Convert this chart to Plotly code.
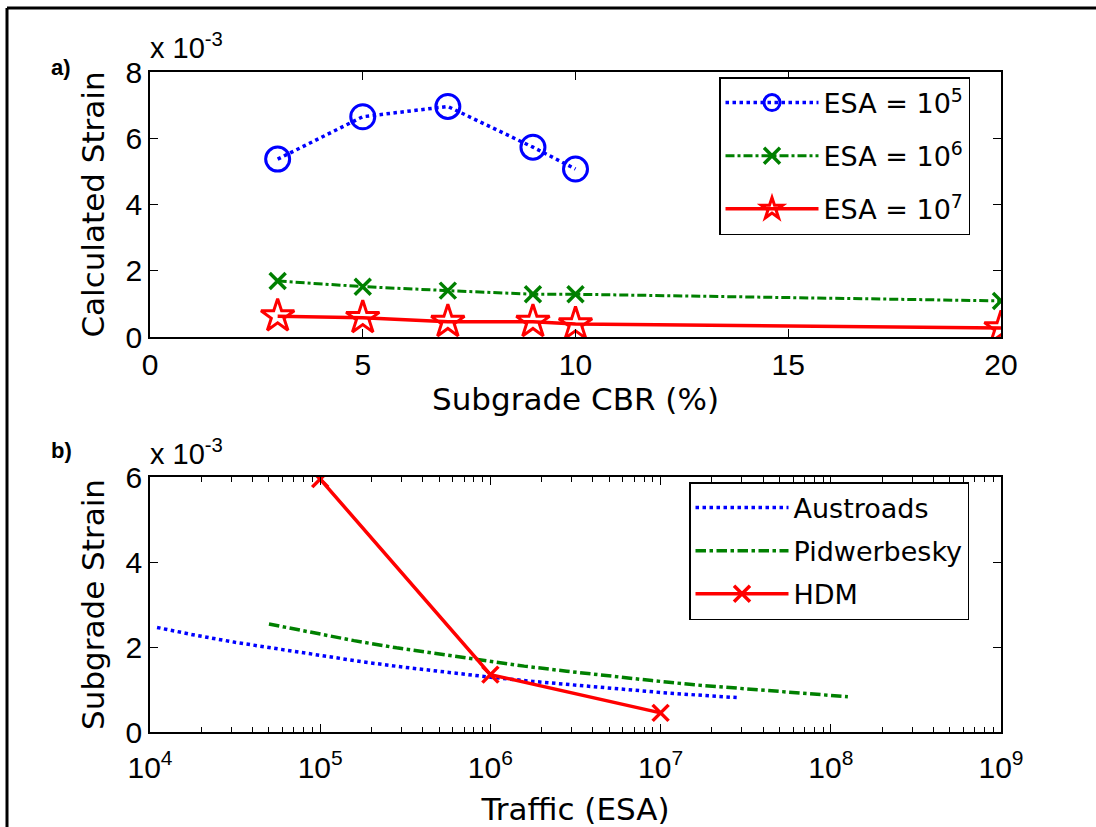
import plotly.graph_objects as go

# ---- Panel a) data (strain x 1e-3) ----
cbr = [3, 5, 7, 9, 10]
cbr_ext = [3, 5, 7, 9, 10, 20]
esa5 = [5.37, 6.65, 6.96, 5.73, 5.07]
esa6 = [1.69, 1.52, 1.40, 1.29, 1.29, 1.09]
esa7 = [0.63, 0.58, 0.46, 0.46, 0.39, 0.27]

# ---- Panel b) data ----
aus_n = [1.1e4, 1.78e4, 3.16e4, 5.62e4, 1e5, 1.78e5, 3.16e5, 5.62e5, 1e6,
         1.78e6, 3.16e6, 5.62e6, 1e7, 1.78e7, 2.8e7]
aus_s = [2.46, 2.29, 2.11, 1.95, 1.79, 1.65, 1.52, 1.40, 1.29,
         1.19, 1.10, 1.01, 0.93, 0.86, 0.81]
pid_n = [5e4, 8.9e4, 1.58e5, 2.81e5, 5e5, 8.9e5, 1.58e6, 2.81e6, 5e6,
         8.9e6, 1.58e7, 2.81e7, 5e7, 8.9e7, 1.26e8]
pid_s = [2.54, 2.34, 2.15, 1.98, 1.83, 1.68, 1.55, 1.43, 1.31,
         1.21, 1.11, 1.03, 0.94, 0.87, 0.83]
hdm_n = [1e5, 1e6, 1e7]
hdm_s = [5.95, 1.35, 0.45]

W, H = 1096, 827
def px(x): return x / W
def py(y): return 1 - y / H

LBL = "DejaVu Sans"
TCK = "Liberation Sans"

fig = go.Figure()

fig.add_trace(go.Scatter(x=cbr, y=esa5, name="ESA = 10<sup>5</sup>", mode="lines+markers",
    line=dict(color="#0000ff", width=3.5, dash="dot"),
    marker=dict(symbol="circle-open", size=24, color="#0000ff", line=dict(width=3)),
    xaxis="x", yaxis="y", legend="legend", legendgroup="a1"))
fig.add_trace(go.Scatter(x=cbr_ext, y=esa6, name="ESA = 10<sup>6</sup>", mode="lines+markers",
    line=dict(color="#008000", width=3, dash="dashdot"),
    marker=dict(symbol="x-thin-open", size=16, color="#008000", line=dict(width=3.5, color="#008000")),
    xaxis="x", yaxis="y", legend="legend", legendgroup="a2"))
fig.add_trace(go.Scatter(x=cbr_ext, y=esa7, name="ESA = 10<sup>7</sup>", mode="lines+markers",
    line=dict(color="#ff0000", width=3.5),
    marker=dict(symbol="star-open", size=25, color="#ff0000", line=dict(width=3, color="#ff0000")),
    xaxis="x", yaxis="y", legend="legend", legendgroup="a3"))

fig.add_trace(go.Scatter(x=aus_n, y=aus_s, name="Austroads", mode="lines",
    line=dict(color="#0000ff", width=3.5, dash="dot"),
    xaxis="x2", yaxis="y2", legend="legend2", legendgroup="b1"))
fig.add_trace(go.Scatter(x=pid_n, y=pid_s, name="Pidwerbesky", mode="lines",
    line=dict(color="#008000", width=3.5, dash="dashdot"),
    xaxis="x2", yaxis="y2", legend="legend2", legendgroup="b2"))
fig.add_trace(go.Scatter(x=hdm_n, y=hdm_s, name="HDM", mode="lines+markers",
    line=dict(color="#ff0000", width=3.5),
    marker=dict(symbol="x-thin-open", size=16, color="#ff0000", line=dict(width=3.5, color="#ff0000")),
    xaxis="x2", yaxis="y2", legend="legend2", legendgroup="b3"))

axcommon = dict(showline=True, linecolor="black", linewidth=1.5, mirror="ticks",
                ticks="inside", ticklen=8, tickwidth=1, tickcolor="black",
                showgrid=False, zeroline=False, automargin=False,
                tickfont=dict(family=TCK, size=30, color="black"))
titlefont = dict(family=LBL, size=31, color="black")

fig.update_layout(
    width=W, height=H, margin=dict(l=0, r=0, t=0, b=0, autoexpand=False),
    paper_bgcolor="white", plot_bgcolor="white",
    xaxis=dict(domain=[px(150), px(1001)], anchor="y", range=[0, 20],
               tickvals=[0, 5, 10, 15, 20],
               title=dict(text="Subgrade CBR (%)", font=titlefont, standoff=8),
               **axcommon),
    yaxis=dict(domain=[py(337), py(72)], anchor="x", range=[0, 8],
               tickvals=[0, 2, 4, 6, 8],
               title=dict(text="Calculated Strain", font=titlefont, standoff=12),
               **axcommon),
    xaxis2=dict(domain=[px(150), px(1001)], anchor="y2", type="log", range=[4, 9],
                tickvals=[1e4, 1e5, 1e6, 1e7, 1e8, 1e9],
                ticktext=["10<sup>%d</sup>" % k for k in range(4, 10)],
                ticklabelstandoff=8,
                minor=dict(ticks="inside", ticklen=5, tickcolor="black", dtick="D1", showgrid=False),
                title=dict(text="Traffic (ESA)", font=titlefont, standoff=18),
                **axcommon),
    yaxis2=dict(domain=[py(732), py(477)], anchor="x2", range=[0, 6],
                tickvals=[0, 2, 4, 6],
                title=dict(text="Subgrade Strain", font=titlefont, standoff=12),
                **axcommon),
    legend=dict(x=px(719), y=py(77), xanchor="left", yanchor="top",
                bordercolor="black", borderwidth=1.5, bgcolor="white",
                font=dict(family=LBL, size=27, color="black"), tracegroupgap=15,
                itemwidth=93),
    legend2=dict(x=px(689), y=py(482), xanchor="left", yanchor="top",
                 bordercolor="black", borderwidth=1.5, bgcolor="white",
                 font=dict(family=LBL, size=27, color="black"), tracegroupgap=5,
                 itemwidth=93),
    showlegend=True,
)

# "x 10^-3" multipliers and panel labels
for yy in [46, 452]:
    fig.add_annotation(x=px(148), y=py(yy), xref="paper", yref="paper", xanchor="left", yanchor="middle",
                       text="x 10<sup>-3</sup>", showarrow=False,
                       font=dict(family=TCK, size=29, color="black"))
fig.add_annotation(x=px(49), y=py(68), xref="paper", yref="paper", xanchor="left", yanchor="middle",
                   text="<b>a)</b>", showarrow=False, font=dict(family=TCK, size=22, color="black"))
fig.add_annotation(x=px(49), y=py(450), xref="paper", yref="paper", xanchor="left", yanchor="middle",
                   text="<b>b)</b>", showarrow=False, font=dict(family=TCK, size=22, color="black"))

# outer frame: only top and left edges fall inside the picture
fig.add_shape(type="line", xref="paper", yref="paper", x0=px(7), y0=py(8), x1=1.0, y1=py(8),
              line=dict(color="black", width=3))
fig.add_shape(type="line", xref="paper", yref="paper", x0=px(7), y0=py(8), x1=px(7), y1=0.0,
              line=dict(color="black", width=3))

fig.write_html("out.html",
               post_script="document.body.style.margin='0';document.body.style.overflow='hidden';"
                           "document.documentElement.style.overflow='hidden';")
